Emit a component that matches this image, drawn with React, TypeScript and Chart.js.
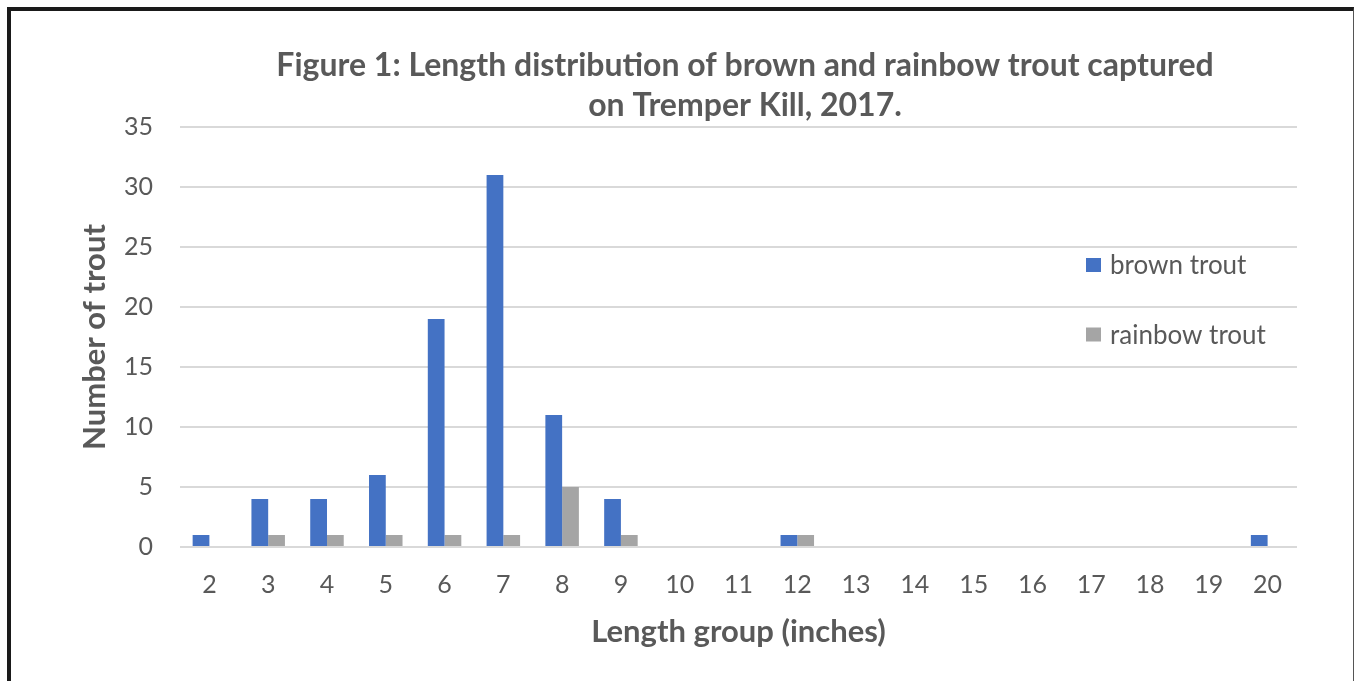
import React, { useEffect, useRef } from "react";
import { Chart, registerables } from "chart.js";

Chart.register(...registerables);

const categories = ["2", "3", "4", "5", "6", "7", "8", "9", "10", "11", "12", "13", "14", "15", "16", "17", "18", "19", "20"];
const brownTrout = [1, 4, 4, 6, 19, 31, 11, 4, 0, 0, 1, 0, 0, 0, 0, 0, 0, 0, 1];
const rainbowTrout = [0, 1, 1, 1, 1, 1, 5, 1, 0, 0, 1, 0, 0, 0, 0, 0, 0, 0, 0];
const titleLines = ["Figure 1: Length distribution of brown and rainbow trout captured", "on Tremper Kill, 2017."];
const yTitle = "Number of trout";
const xTitle = "Length group (inches)";

const FONT = "Lato, 'Open Sans', sans-serif";
const TEXT = "#595959";

const legendPlugin = {
  id: "customLegend",
  afterDraw(chart: any) {
    const ctx = chart.ctx;
    ctx.save();
    const items = chart.data.datasets;
    const xs = 1086;
    const ys = [265, 334.5];
    ctx.font = `26px ${FONT}`;
    ctx.textBaseline = "middle";
    ctx.textAlign = "left";
    items.forEach((ds: any, i: number) => {
      ctx.fillStyle = ds.backgroundColor;
      ctx.fillRect(xs, ys[i] - 7, 15, 14);
      ctx.fillStyle = TEXT;
      ctx.fillText(ds.label, xs + 24, ys[i] + 1);
    });
    ctx.restore();
  },
};

const titlePlugin = {
  id: "customTitle",
  afterDraw(chart: any) {
    const ctx = chart.ctx;
    ctx.save();
    ctx.font = `bold 32px ${FONT}`;
    ctx.fillStyle = TEXT;
    ctx.textAlign = "center";
    ctx.textBaseline = "middle";
    ctx.fillText(titleLines[0], 745, 66);
    ctx.fillText(titleLines[1], 745, 106);
    ctx.restore();
  },
};

export default function App() {
  const ref = useRef<HTMLCanvasElement | null>(null);
  useEffect(() => {
    document.body.style.margin = "0";
    const canvas = ref.current!;
    const chart = new Chart(canvas, {
      type: "bar",
      data: {
        labels: categories,
        datasets: [
          { label: "brown trout", data: brownTrout, backgroundColor: "#4472C4", categoryPercentage: 0.57, barPercentage: 1 },
          { label: "rainbow trout", data: rainbowTrout, backgroundColor: "#A5A5A5", categoryPercentage: 0.57, barPercentage: 1 },
        ],
      },
      plugins: [legendPlugin, titlePlugin],
      options: {
        responsive: false,
        animation: false,
        layout: { padding: { top: 127, right: 57, bottom: 0, left: 0 } },
        plugins: {
          legend: { display: false },
          title: { display: false },
          tooltip: { enabled: false },
        },
        scales: {
          x: {
            grid: { display: false, drawTicks: false },
            border: { display: false },
            ticks: { color: TEXT, font: { family: FONT, size: 25 }, padding: 23, maxRotation: 0, autoSkip: false },
            title: { display: true, text: xTitle, color: TEXT, font: { family: FONT, size: 31, weight: "bold" }, padding: { top: 0, bottom: 30 } },
            afterFit: (s: any) => { s.height = 134; },
          },
          y: {
            min: 0,
            max: 35,
            grid: { color: "#D9D9D9", lineWidth: 2, drawTicks: false },
            border: { display: false },
            ticks: { stepSize: 5, color: TEXT, font: { family: FONT, size: 25 }, padding: 27 },
            title: { display: true, text: yTitle, color: TEXT, font: { family: FONT, size: 31, weight: "bold" }, padding: { top: 76, bottom: 0 } },
            afterFit: (s: any) => { s.width = 180; },
          },
        },
      },
    });
    return () => chart.destroy();
  }, []);
  return (
    <div style={{ position: "relative", width: 1354, height: 681, overflow: "hidden", background: "#fff" }}>
      <canvas ref={ref} width={1354} height={681} style={{ display: "block" }} />
      <div
        style={{
          position: "absolute",
          left: 7,
          top: 7,
          width: 1353 - 7 - 4,
          height: 800,
          borderLeft: "4px solid #1a1a1a",
          borderTop: "4px solid #1a1a1a",
          borderRight: "1px solid #555",
          pointerEvents: "none",
        }}
      />
    </div>
  );
}
